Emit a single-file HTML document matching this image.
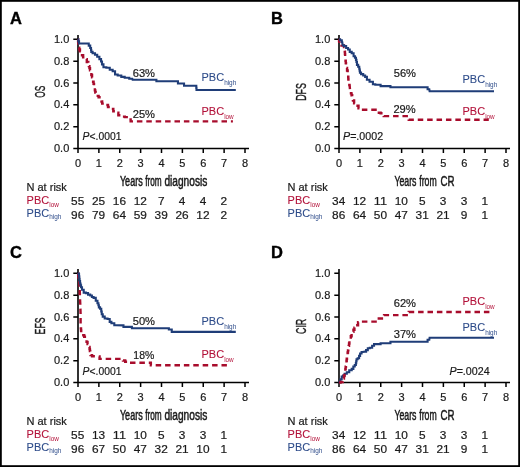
<!DOCTYPE html><html><head><meta charset="utf-8"><style>
html,body{margin:0;padding:0;background:#fff;}
svg{display:block;will-change:transform;}
text{font-family:"Liberation Sans",sans-serif;}
</style></head><body>
<svg width="520" height="467" viewBox="0 0 520 467">
<rect x="0" y="0" width="520" height="467" fill="#fff"/>
<rect x="0.9" y="0.9" width="518.2" height="465.2" fill="none" stroke="#000" stroke-width="1.8"/>

<g transform="translate(0,0)">
<text x="10.0" y="24.2" font-size="16.5" font-weight="bold" stroke="#000" stroke-width="0.35" fill="#000">A</text>
<path d="M78.0,35.1 V148.5 M78.0,148.5 H249" stroke="#000" stroke-width="1.6" fill="none"/>
<path d="M73.3,148.50 H78.0 M73.3,126.66 H78.0 M73.3,104.82 H78.0 M73.3,82.98 H78.0 M73.3,61.14 H78.0 M73.3,39.30 H78.0 M78.00,148.5 V152.9 M98.88,148.5 V152.9 M119.75,148.5 V152.9 M140.62,148.5 V152.9 M161.50,148.5 V152.9 M182.38,148.5 V152.9 M203.25,148.5 V152.9 M224.12,148.5 V152.9 M245.00,148.5 V152.9" stroke="#000" stroke-width="1.5" fill="none"/>
<text x="69.3" y="152.10" font-size="11" text-anchor="end" fill="#1a1a1a" stroke="#1a1a1a" stroke-width="0.2">0.0</text>
<text x="69.3" y="130.26" font-size="11" text-anchor="end" fill="#1a1a1a" stroke="#1a1a1a" stroke-width="0.2">0.2</text>
<text x="69.3" y="108.42" font-size="11" text-anchor="end" fill="#1a1a1a" stroke="#1a1a1a" stroke-width="0.2">0.4</text>
<text x="69.3" y="86.58" font-size="11" text-anchor="end" fill="#1a1a1a" stroke="#1a1a1a" stroke-width="0.2">0.6</text>
<text x="69.3" y="64.74" font-size="11" text-anchor="end" fill="#1a1a1a" stroke="#1a1a1a" stroke-width="0.2">0.8</text>
<text x="69.3" y="42.90" font-size="11" text-anchor="end" fill="#1a1a1a" stroke="#1a1a1a" stroke-width="0.2">1.0</text>
<text x="78.00" y="167" font-size="11" text-anchor="middle" fill="#1a1a1a" stroke="#1a1a1a" stroke-width="0.2">0</text>
<text x="98.88" y="167" font-size="11" text-anchor="middle" fill="#1a1a1a" stroke="#1a1a1a" stroke-width="0.2">1</text>
<text x="119.75" y="167" font-size="11" text-anchor="middle" fill="#1a1a1a" stroke="#1a1a1a" stroke-width="0.2">2</text>
<text x="140.62" y="167" font-size="11" text-anchor="middle" fill="#1a1a1a" stroke="#1a1a1a" stroke-width="0.2">3</text>
<text x="161.50" y="167" font-size="11" text-anchor="middle" fill="#1a1a1a" stroke="#1a1a1a" stroke-width="0.2">4</text>
<text x="182.38" y="167" font-size="11" text-anchor="middle" fill="#1a1a1a" stroke="#1a1a1a" stroke-width="0.2">5</text>
<text x="203.25" y="167" font-size="11" text-anchor="middle" fill="#1a1a1a" stroke="#1a1a1a" stroke-width="0.2">6</text>
<text x="224.12" y="167" font-size="11" text-anchor="middle" fill="#1a1a1a" stroke="#1a1a1a" stroke-width="0.2">7</text>
<text x="245.00" y="167" font-size="11" text-anchor="middle" fill="#1a1a1a" stroke="#1a1a1a" stroke-width="0.2">8</text>
<text transform="translate(45.30,91.75) rotate(-90)" x="0" y="0" font-size="14.2" stroke="#1a1a1a" stroke-width="0.4" text-anchor="middle" textLength="12.1" lengthAdjust="spacingAndGlyphs" fill="#1a1a1a">OS</text>
<text x="119.90" y="185.9" font-size="13.8" stroke="#1a1a1a" stroke-width="0.5" textLength="22.8" lengthAdjust="spacingAndGlyphs" fill="#1a1a1a">Years</text>
<text x="145.20" y="185.9" font-size="13.8" stroke="#1a1a1a" stroke-width="0.5" textLength="16.5" lengthAdjust="spacingAndGlyphs" fill="#1a1a1a">from</text>
<text x="164.40" y="185.9" font-size="13.8" stroke="#1a1a1a" stroke-width="0.5" textLength="42.9" lengthAdjust="spacingAndGlyphs" fill="#1a1a1a">diagnosis</text>
<text x="26.5" y="190.9" font-size="11" fill="#1a1a1a" stroke="#1a1a1a" stroke-width="0.2">N at risk</text>
<text x="26.6" y="203.7" font-size="11" fill="#b3123a" stroke="#b3123a" stroke-width="0.08">PBC<tspan font-size="6.4" stroke-width="0" dy="3.3">low</tspan></text>
<text x="26.6" y="216.5" font-size="11" fill="#2e4c8a" stroke="#2e4c8a" stroke-width="0.08">PBC<tspan font-size="6.4" stroke-width="0" dy="2.4">high</tspan></text>
<text x="77.70" y="204.8" font-size="11.2" text-anchor="middle" textLength="13.20" lengthAdjust="spacingAndGlyphs" fill="#1a1a1a" stroke="#1a1a1a" stroke-width="0.2">55</text>
<text x="98.58" y="204.8" font-size="11.2" text-anchor="middle" textLength="13.20" lengthAdjust="spacingAndGlyphs" fill="#1a1a1a" stroke="#1a1a1a" stroke-width="0.2">25</text>
<text x="119.45" y="204.8" font-size="11.2" text-anchor="middle" textLength="13.20" lengthAdjust="spacingAndGlyphs" fill="#1a1a1a" stroke="#1a1a1a" stroke-width="0.2">16</text>
<text x="140.32" y="204.8" font-size="11.2" text-anchor="middle" textLength="13.20" lengthAdjust="spacingAndGlyphs" fill="#1a1a1a" stroke="#1a1a1a" stroke-width="0.2">12</text>
<text x="161.20" y="204.8" font-size="11.2" text-anchor="middle" textLength="6.60" lengthAdjust="spacingAndGlyphs" fill="#1a1a1a" stroke="#1a1a1a" stroke-width="0.2">7</text>
<text x="182.07" y="204.8" font-size="11.2" text-anchor="middle" textLength="6.60" lengthAdjust="spacingAndGlyphs" fill="#1a1a1a" stroke="#1a1a1a" stroke-width="0.2">4</text>
<text x="202.95" y="204.8" font-size="11.2" text-anchor="middle" textLength="6.60" lengthAdjust="spacingAndGlyphs" fill="#1a1a1a" stroke="#1a1a1a" stroke-width="0.2">4</text>
<text x="223.82" y="204.8" font-size="11.2" text-anchor="middle" textLength="6.60" lengthAdjust="spacingAndGlyphs" fill="#1a1a1a" stroke="#1a1a1a" stroke-width="0.2">2</text>
<text x="77.70" y="218.7" font-size="11.2" text-anchor="middle" textLength="13.20" lengthAdjust="spacingAndGlyphs" fill="#1a1a1a" stroke="#1a1a1a" stroke-width="0.2">96</text>
<text x="98.58" y="218.7" font-size="11.2" text-anchor="middle" textLength="13.20" lengthAdjust="spacingAndGlyphs" fill="#1a1a1a" stroke="#1a1a1a" stroke-width="0.2">79</text>
<text x="119.45" y="218.7" font-size="11.2" text-anchor="middle" textLength="13.20" lengthAdjust="spacingAndGlyphs" fill="#1a1a1a" stroke="#1a1a1a" stroke-width="0.2">64</text>
<text x="140.32" y="218.7" font-size="11.2" text-anchor="middle" textLength="13.20" lengthAdjust="spacingAndGlyphs" fill="#1a1a1a" stroke="#1a1a1a" stroke-width="0.2">59</text>
<text x="161.20" y="218.7" font-size="11.2" text-anchor="middle" textLength="13.20" lengthAdjust="spacingAndGlyphs" fill="#1a1a1a" stroke="#1a1a1a" stroke-width="0.2">39</text>
<text x="182.07" y="218.7" font-size="11.2" text-anchor="middle" textLength="13.20" lengthAdjust="spacingAndGlyphs" fill="#1a1a1a" stroke="#1a1a1a" stroke-width="0.2">26</text>
<text x="202.95" y="218.7" font-size="11.2" text-anchor="middle" textLength="13.20" lengthAdjust="spacingAndGlyphs" fill="#1a1a1a" stroke="#1a1a1a" stroke-width="0.2">12</text>
<text x="223.82" y="218.7" font-size="11.2" text-anchor="middle" textLength="6.60" lengthAdjust="spacingAndGlyphs" fill="#1a1a1a" stroke="#1a1a1a" stroke-width="0.2">2</text>
</g>
<g transform="translate(261,0)">
<text x="10.0" y="24.2" font-size="16.5" font-weight="bold" stroke="#000" stroke-width="0.35" fill="#000">B</text>
<path d="M78.0,35.1 V148.5 M78.0,148.5 H249" stroke="#000" stroke-width="1.6" fill="none"/>
<path d="M73.3,148.50 H78.0 M73.3,126.66 H78.0 M73.3,104.82 H78.0 M73.3,82.98 H78.0 M73.3,61.14 H78.0 M73.3,39.30 H78.0 M78.00,148.5 V152.9 M98.88,148.5 V152.9 M119.75,148.5 V152.9 M140.62,148.5 V152.9 M161.50,148.5 V152.9 M182.38,148.5 V152.9 M203.25,148.5 V152.9 M224.12,148.5 V152.9 M245.00,148.5 V152.9" stroke="#000" stroke-width="1.5" fill="none"/>
<text x="69.3" y="152.10" font-size="11" text-anchor="end" fill="#1a1a1a" stroke="#1a1a1a" stroke-width="0.2">0.0</text>
<text x="69.3" y="130.26" font-size="11" text-anchor="end" fill="#1a1a1a" stroke="#1a1a1a" stroke-width="0.2">0.2</text>
<text x="69.3" y="108.42" font-size="11" text-anchor="end" fill="#1a1a1a" stroke="#1a1a1a" stroke-width="0.2">0.4</text>
<text x="69.3" y="86.58" font-size="11" text-anchor="end" fill="#1a1a1a" stroke="#1a1a1a" stroke-width="0.2">0.6</text>
<text x="69.3" y="64.74" font-size="11" text-anchor="end" fill="#1a1a1a" stroke="#1a1a1a" stroke-width="0.2">0.8</text>
<text x="69.3" y="42.90" font-size="11" text-anchor="end" fill="#1a1a1a" stroke="#1a1a1a" stroke-width="0.2">1.0</text>
<text x="78.00" y="167" font-size="11" text-anchor="middle" fill="#1a1a1a" stroke="#1a1a1a" stroke-width="0.2">0</text>
<text x="98.88" y="167" font-size="11" text-anchor="middle" fill="#1a1a1a" stroke="#1a1a1a" stroke-width="0.2">1</text>
<text x="119.75" y="167" font-size="11" text-anchor="middle" fill="#1a1a1a" stroke="#1a1a1a" stroke-width="0.2">2</text>
<text x="140.62" y="167" font-size="11" text-anchor="middle" fill="#1a1a1a" stroke="#1a1a1a" stroke-width="0.2">3</text>
<text x="161.50" y="167" font-size="11" text-anchor="middle" fill="#1a1a1a" stroke="#1a1a1a" stroke-width="0.2">4</text>
<text x="182.38" y="167" font-size="11" text-anchor="middle" fill="#1a1a1a" stroke="#1a1a1a" stroke-width="0.2">5</text>
<text x="203.25" y="167" font-size="11" text-anchor="middle" fill="#1a1a1a" stroke="#1a1a1a" stroke-width="0.2">6</text>
<text x="224.12" y="167" font-size="11" text-anchor="middle" fill="#1a1a1a" stroke="#1a1a1a" stroke-width="0.2">7</text>
<text x="245.00" y="167" font-size="11" text-anchor="middle" fill="#1a1a1a" stroke="#1a1a1a" stroke-width="0.2">8</text>
<text transform="translate(45.30,91.95) rotate(-90)" x="0" y="0" font-size="14.2" stroke="#1a1a1a" stroke-width="0.4" text-anchor="middle" textLength="17.7" lengthAdjust="spacingAndGlyphs" fill="#1a1a1a">DFS</text>
<text x="133.40" y="185.9" font-size="13.8" stroke="#1a1a1a" stroke-width="0.5" textLength="22.1" lengthAdjust="spacingAndGlyphs" fill="#1a1a1a">Years</text>
<text x="158.30" y="185.9" font-size="13.8" stroke="#1a1a1a" stroke-width="0.5" textLength="17.4" lengthAdjust="spacingAndGlyphs" fill="#1a1a1a">from</text>
<text x="179.60" y="185.9" font-size="13.8" stroke="#1a1a1a" stroke-width="0.5" textLength="14.0" lengthAdjust="spacingAndGlyphs" fill="#1a1a1a">CR</text>
<text x="26.5" y="190.9" font-size="11" fill="#1a1a1a" stroke="#1a1a1a" stroke-width="0.2">N at risk</text>
<text x="26.6" y="203.7" font-size="11" fill="#b3123a" stroke="#b3123a" stroke-width="0.08">PBC<tspan font-size="6.4" stroke-width="0" dy="3.3">low</tspan></text>
<text x="26.6" y="216.5" font-size="11" fill="#2e4c8a" stroke="#2e4c8a" stroke-width="0.08">PBC<tspan font-size="6.4" stroke-width="0" dy="2.4">high</tspan></text>
<text x="77.70" y="204.8" font-size="11.2" text-anchor="middle" textLength="13.20" lengthAdjust="spacingAndGlyphs" fill="#1a1a1a" stroke="#1a1a1a" stroke-width="0.2">34</text>
<text x="98.58" y="204.8" font-size="11.2" text-anchor="middle" textLength="13.20" lengthAdjust="spacingAndGlyphs" fill="#1a1a1a" stroke="#1a1a1a" stroke-width="0.2">12</text>
<text x="119.45" y="204.8" font-size="11.2" text-anchor="middle" textLength="13.20" lengthAdjust="spacingAndGlyphs" fill="#1a1a1a" stroke="#1a1a1a" stroke-width="0.2">11</text>
<text x="140.32" y="204.8" font-size="11.2" text-anchor="middle" textLength="13.20" lengthAdjust="spacingAndGlyphs" fill="#1a1a1a" stroke="#1a1a1a" stroke-width="0.2">10</text>
<text x="161.20" y="204.8" font-size="11.2" text-anchor="middle" textLength="6.60" lengthAdjust="spacingAndGlyphs" fill="#1a1a1a" stroke="#1a1a1a" stroke-width="0.2">5</text>
<text x="182.07" y="204.8" font-size="11.2" text-anchor="middle" textLength="6.60" lengthAdjust="spacingAndGlyphs" fill="#1a1a1a" stroke="#1a1a1a" stroke-width="0.2">3</text>
<text x="202.95" y="204.8" font-size="11.2" text-anchor="middle" textLength="6.60" lengthAdjust="spacingAndGlyphs" fill="#1a1a1a" stroke="#1a1a1a" stroke-width="0.2">3</text>
<text x="223.82" y="204.8" font-size="11.2" text-anchor="middle" textLength="6.60" lengthAdjust="spacingAndGlyphs" fill="#1a1a1a" stroke="#1a1a1a" stroke-width="0.2">1</text>
<text x="77.70" y="218.7" font-size="11.2" text-anchor="middle" textLength="13.20" lengthAdjust="spacingAndGlyphs" fill="#1a1a1a" stroke="#1a1a1a" stroke-width="0.2">86</text>
<text x="98.58" y="218.7" font-size="11.2" text-anchor="middle" textLength="13.20" lengthAdjust="spacingAndGlyphs" fill="#1a1a1a" stroke="#1a1a1a" stroke-width="0.2">64</text>
<text x="119.45" y="218.7" font-size="11.2" text-anchor="middle" textLength="13.20" lengthAdjust="spacingAndGlyphs" fill="#1a1a1a" stroke="#1a1a1a" stroke-width="0.2">50</text>
<text x="140.32" y="218.7" font-size="11.2" text-anchor="middle" textLength="13.20" lengthAdjust="spacingAndGlyphs" fill="#1a1a1a" stroke="#1a1a1a" stroke-width="0.2">47</text>
<text x="161.20" y="218.7" font-size="11.2" text-anchor="middle" textLength="13.20" lengthAdjust="spacingAndGlyphs" fill="#1a1a1a" stroke="#1a1a1a" stroke-width="0.2">31</text>
<text x="182.07" y="218.7" font-size="11.2" text-anchor="middle" textLength="13.20" lengthAdjust="spacingAndGlyphs" fill="#1a1a1a" stroke="#1a1a1a" stroke-width="0.2">21</text>
<text x="202.95" y="218.7" font-size="11.2" text-anchor="middle" textLength="6.60" lengthAdjust="spacingAndGlyphs" fill="#1a1a1a" stroke="#1a1a1a" stroke-width="0.2">9</text>
<text x="223.82" y="218.7" font-size="11.2" text-anchor="middle" textLength="6.60" lengthAdjust="spacingAndGlyphs" fill="#1a1a1a" stroke="#1a1a1a" stroke-width="0.2">1</text>
</g>
<g transform="translate(0,234)">
<text x="10.0" y="24.2" font-size="16.5" font-weight="bold" stroke="#000" stroke-width="0.35" fill="#000">C</text>
<path d="M78.0,35.1 V148.5 M78.0,148.5 H249" stroke="#000" stroke-width="1.6" fill="none"/>
<path d="M73.3,148.50 H78.0 M73.3,126.66 H78.0 M73.3,104.82 H78.0 M73.3,82.98 H78.0 M73.3,61.14 H78.0 M73.3,39.30 H78.0 M78.00,148.5 V152.9 M98.88,148.5 V152.9 M119.75,148.5 V152.9 M140.62,148.5 V152.9 M161.50,148.5 V152.9 M182.38,148.5 V152.9 M203.25,148.5 V152.9 M224.12,148.5 V152.9 M245.00,148.5 V152.9" stroke="#000" stroke-width="1.5" fill="none"/>
<text x="69.3" y="152.10" font-size="11" text-anchor="end" fill="#1a1a1a" stroke="#1a1a1a" stroke-width="0.2">0.0</text>
<text x="69.3" y="130.26" font-size="11" text-anchor="end" fill="#1a1a1a" stroke="#1a1a1a" stroke-width="0.2">0.2</text>
<text x="69.3" y="108.42" font-size="11" text-anchor="end" fill="#1a1a1a" stroke="#1a1a1a" stroke-width="0.2">0.4</text>
<text x="69.3" y="86.58" font-size="11" text-anchor="end" fill="#1a1a1a" stroke="#1a1a1a" stroke-width="0.2">0.6</text>
<text x="69.3" y="64.74" font-size="11" text-anchor="end" fill="#1a1a1a" stroke="#1a1a1a" stroke-width="0.2">0.8</text>
<text x="69.3" y="42.90" font-size="11" text-anchor="end" fill="#1a1a1a" stroke="#1a1a1a" stroke-width="0.2">1.0</text>
<text x="78.00" y="167" font-size="11" text-anchor="middle" fill="#1a1a1a" stroke="#1a1a1a" stroke-width="0.2">0</text>
<text x="98.88" y="167" font-size="11" text-anchor="middle" fill="#1a1a1a" stroke="#1a1a1a" stroke-width="0.2">1</text>
<text x="119.75" y="167" font-size="11" text-anchor="middle" fill="#1a1a1a" stroke="#1a1a1a" stroke-width="0.2">2</text>
<text x="140.62" y="167" font-size="11" text-anchor="middle" fill="#1a1a1a" stroke="#1a1a1a" stroke-width="0.2">3</text>
<text x="161.50" y="167" font-size="11" text-anchor="middle" fill="#1a1a1a" stroke="#1a1a1a" stroke-width="0.2">4</text>
<text x="182.38" y="167" font-size="11" text-anchor="middle" fill="#1a1a1a" stroke="#1a1a1a" stroke-width="0.2">5</text>
<text x="203.25" y="167" font-size="11" text-anchor="middle" fill="#1a1a1a" stroke="#1a1a1a" stroke-width="0.2">6</text>
<text x="224.12" y="167" font-size="11" text-anchor="middle" fill="#1a1a1a" stroke="#1a1a1a" stroke-width="0.2">7</text>
<text x="245.00" y="167" font-size="11" text-anchor="middle" fill="#1a1a1a" stroke="#1a1a1a" stroke-width="0.2">8</text>
<text transform="translate(45.30,91.95) rotate(-90)" x="0" y="0" font-size="14.2" stroke="#1a1a1a" stroke-width="0.4" text-anchor="middle" textLength="16.9" lengthAdjust="spacingAndGlyphs" fill="#1a1a1a">EFS</text>
<text x="119.90" y="185.9" font-size="13.8" stroke="#1a1a1a" stroke-width="0.5" textLength="22.8" lengthAdjust="spacingAndGlyphs" fill="#1a1a1a">Years</text>
<text x="145.20" y="185.9" font-size="13.8" stroke="#1a1a1a" stroke-width="0.5" textLength="16.5" lengthAdjust="spacingAndGlyphs" fill="#1a1a1a">from</text>
<text x="164.40" y="185.9" font-size="13.8" stroke="#1a1a1a" stroke-width="0.5" textLength="42.9" lengthAdjust="spacingAndGlyphs" fill="#1a1a1a">diagnosis</text>
<text x="26.5" y="190.9" font-size="11" fill="#1a1a1a" stroke="#1a1a1a" stroke-width="0.2">N at risk</text>
<text x="26.6" y="203.7" font-size="11" fill="#b3123a" stroke="#b3123a" stroke-width="0.08">PBC<tspan font-size="6.4" stroke-width="0" dy="3.3">low</tspan></text>
<text x="26.6" y="216.5" font-size="11" fill="#2e4c8a" stroke="#2e4c8a" stroke-width="0.08">PBC<tspan font-size="6.4" stroke-width="0" dy="2.4">high</tspan></text>
<text x="77.70" y="204.8" font-size="11.2" text-anchor="middle" textLength="13.20" lengthAdjust="spacingAndGlyphs" fill="#1a1a1a" stroke="#1a1a1a" stroke-width="0.2">55</text>
<text x="98.58" y="204.8" font-size="11.2" text-anchor="middle" textLength="13.20" lengthAdjust="spacingAndGlyphs" fill="#1a1a1a" stroke="#1a1a1a" stroke-width="0.2">13</text>
<text x="119.45" y="204.8" font-size="11.2" text-anchor="middle" textLength="13.20" lengthAdjust="spacingAndGlyphs" fill="#1a1a1a" stroke="#1a1a1a" stroke-width="0.2">11</text>
<text x="140.32" y="204.8" font-size="11.2" text-anchor="middle" textLength="13.20" lengthAdjust="spacingAndGlyphs" fill="#1a1a1a" stroke="#1a1a1a" stroke-width="0.2">10</text>
<text x="161.20" y="204.8" font-size="11.2" text-anchor="middle" textLength="6.60" lengthAdjust="spacingAndGlyphs" fill="#1a1a1a" stroke="#1a1a1a" stroke-width="0.2">5</text>
<text x="182.07" y="204.8" font-size="11.2" text-anchor="middle" textLength="6.60" lengthAdjust="spacingAndGlyphs" fill="#1a1a1a" stroke="#1a1a1a" stroke-width="0.2">3</text>
<text x="202.95" y="204.8" font-size="11.2" text-anchor="middle" textLength="6.60" lengthAdjust="spacingAndGlyphs" fill="#1a1a1a" stroke="#1a1a1a" stroke-width="0.2">3</text>
<text x="223.82" y="204.8" font-size="11.2" text-anchor="middle" textLength="6.60" lengthAdjust="spacingAndGlyphs" fill="#1a1a1a" stroke="#1a1a1a" stroke-width="0.2">1</text>
<text x="77.70" y="218.7" font-size="11.2" text-anchor="middle" textLength="13.20" lengthAdjust="spacingAndGlyphs" fill="#1a1a1a" stroke="#1a1a1a" stroke-width="0.2">96</text>
<text x="98.58" y="218.7" font-size="11.2" text-anchor="middle" textLength="13.20" lengthAdjust="spacingAndGlyphs" fill="#1a1a1a" stroke="#1a1a1a" stroke-width="0.2">67</text>
<text x="119.45" y="218.7" font-size="11.2" text-anchor="middle" textLength="13.20" lengthAdjust="spacingAndGlyphs" fill="#1a1a1a" stroke="#1a1a1a" stroke-width="0.2">50</text>
<text x="140.32" y="218.7" font-size="11.2" text-anchor="middle" textLength="13.20" lengthAdjust="spacingAndGlyphs" fill="#1a1a1a" stroke="#1a1a1a" stroke-width="0.2">47</text>
<text x="161.20" y="218.7" font-size="11.2" text-anchor="middle" textLength="13.20" lengthAdjust="spacingAndGlyphs" fill="#1a1a1a" stroke="#1a1a1a" stroke-width="0.2">32</text>
<text x="182.07" y="218.7" font-size="11.2" text-anchor="middle" textLength="13.20" lengthAdjust="spacingAndGlyphs" fill="#1a1a1a" stroke="#1a1a1a" stroke-width="0.2">21</text>
<text x="202.95" y="218.7" font-size="11.2" text-anchor="middle" textLength="13.20" lengthAdjust="spacingAndGlyphs" fill="#1a1a1a" stroke="#1a1a1a" stroke-width="0.2">10</text>
<text x="223.82" y="218.7" font-size="11.2" text-anchor="middle" textLength="6.60" lengthAdjust="spacingAndGlyphs" fill="#1a1a1a" stroke="#1a1a1a" stroke-width="0.2">1</text>
</g>
<g transform="translate(261,234)">
<text x="10.0" y="24.2" font-size="16.5" font-weight="bold" stroke="#000" stroke-width="0.35" fill="#000">D</text>
<path d="M78.0,35.1 V148.5 M78.0,148.5 H249" stroke="#000" stroke-width="1.6" fill="none"/>
<path d="M73.3,148.50 H78.0 M73.3,126.66 H78.0 M73.3,104.82 H78.0 M73.3,82.98 H78.0 M73.3,61.14 H78.0 M73.3,39.30 H78.0 M78.00,148.5 V152.9 M98.88,148.5 V152.9 M119.75,148.5 V152.9 M140.62,148.5 V152.9 M161.50,148.5 V152.9 M182.38,148.5 V152.9 M203.25,148.5 V152.9 M224.12,148.5 V152.9 M245.00,148.5 V152.9" stroke="#000" stroke-width="1.5" fill="none"/>
<text x="69.3" y="152.10" font-size="11" text-anchor="end" fill="#1a1a1a" stroke="#1a1a1a" stroke-width="0.2">0.0</text>
<text x="69.3" y="130.26" font-size="11" text-anchor="end" fill="#1a1a1a" stroke="#1a1a1a" stroke-width="0.2">0.2</text>
<text x="69.3" y="108.42" font-size="11" text-anchor="end" fill="#1a1a1a" stroke="#1a1a1a" stroke-width="0.2">0.4</text>
<text x="69.3" y="86.58" font-size="11" text-anchor="end" fill="#1a1a1a" stroke="#1a1a1a" stroke-width="0.2">0.6</text>
<text x="69.3" y="64.74" font-size="11" text-anchor="end" fill="#1a1a1a" stroke="#1a1a1a" stroke-width="0.2">0.8</text>
<text x="69.3" y="42.90" font-size="11" text-anchor="end" fill="#1a1a1a" stroke="#1a1a1a" stroke-width="0.2">1.0</text>
<text x="78.00" y="167" font-size="11" text-anchor="middle" fill="#1a1a1a" stroke="#1a1a1a" stroke-width="0.2">0</text>
<text x="98.88" y="167" font-size="11" text-anchor="middle" fill="#1a1a1a" stroke="#1a1a1a" stroke-width="0.2">1</text>
<text x="119.75" y="167" font-size="11" text-anchor="middle" fill="#1a1a1a" stroke="#1a1a1a" stroke-width="0.2">2</text>
<text x="140.62" y="167" font-size="11" text-anchor="middle" fill="#1a1a1a" stroke="#1a1a1a" stroke-width="0.2">3</text>
<text x="161.50" y="167" font-size="11" text-anchor="middle" fill="#1a1a1a" stroke="#1a1a1a" stroke-width="0.2">4</text>
<text x="182.38" y="167" font-size="11" text-anchor="middle" fill="#1a1a1a" stroke="#1a1a1a" stroke-width="0.2">5</text>
<text x="203.25" y="167" font-size="11" text-anchor="middle" fill="#1a1a1a" stroke="#1a1a1a" stroke-width="0.2">6</text>
<text x="224.12" y="167" font-size="11" text-anchor="middle" fill="#1a1a1a" stroke="#1a1a1a" stroke-width="0.2">7</text>
<text x="245.00" y="167" font-size="11" text-anchor="middle" fill="#1a1a1a" stroke="#1a1a1a" stroke-width="0.2">8</text>
<text transform="translate(45.10,92.40) rotate(-90)" x="0" y="0" font-size="14.2" stroke="#1a1a1a" stroke-width="0.4" text-anchor="middle" textLength="15.2" lengthAdjust="spacingAndGlyphs" fill="#1a1a1a">CIR</text>
<text x="133.40" y="185.9" font-size="13.8" stroke="#1a1a1a" stroke-width="0.5" textLength="22.1" lengthAdjust="spacingAndGlyphs" fill="#1a1a1a">Years</text>
<text x="158.30" y="185.9" font-size="13.8" stroke="#1a1a1a" stroke-width="0.5" textLength="17.4" lengthAdjust="spacingAndGlyphs" fill="#1a1a1a">from</text>
<text x="179.60" y="185.9" font-size="13.8" stroke="#1a1a1a" stroke-width="0.5" textLength="14.0" lengthAdjust="spacingAndGlyphs" fill="#1a1a1a">CR</text>
<text x="26.5" y="190.9" font-size="11" fill="#1a1a1a" stroke="#1a1a1a" stroke-width="0.2">N at risk</text>
<text x="26.6" y="203.7" font-size="11" fill="#b3123a" stroke="#b3123a" stroke-width="0.08">PBC<tspan font-size="6.4" stroke-width="0" dy="3.3">low</tspan></text>
<text x="26.6" y="216.5" font-size="11" fill="#2e4c8a" stroke="#2e4c8a" stroke-width="0.08">PBC<tspan font-size="6.4" stroke-width="0" dy="2.4">high</tspan></text>
<text x="77.70" y="204.8" font-size="11.2" text-anchor="middle" textLength="13.20" lengthAdjust="spacingAndGlyphs" fill="#1a1a1a" stroke="#1a1a1a" stroke-width="0.2">34</text>
<text x="98.58" y="204.8" font-size="11.2" text-anchor="middle" textLength="13.20" lengthAdjust="spacingAndGlyphs" fill="#1a1a1a" stroke="#1a1a1a" stroke-width="0.2">12</text>
<text x="119.45" y="204.8" font-size="11.2" text-anchor="middle" textLength="13.20" lengthAdjust="spacingAndGlyphs" fill="#1a1a1a" stroke="#1a1a1a" stroke-width="0.2">11</text>
<text x="140.32" y="204.8" font-size="11.2" text-anchor="middle" textLength="13.20" lengthAdjust="spacingAndGlyphs" fill="#1a1a1a" stroke="#1a1a1a" stroke-width="0.2">10</text>
<text x="161.20" y="204.8" font-size="11.2" text-anchor="middle" textLength="6.60" lengthAdjust="spacingAndGlyphs" fill="#1a1a1a" stroke="#1a1a1a" stroke-width="0.2">5</text>
<text x="182.07" y="204.8" font-size="11.2" text-anchor="middle" textLength="6.60" lengthAdjust="spacingAndGlyphs" fill="#1a1a1a" stroke="#1a1a1a" stroke-width="0.2">3</text>
<text x="202.95" y="204.8" font-size="11.2" text-anchor="middle" textLength="6.60" lengthAdjust="spacingAndGlyphs" fill="#1a1a1a" stroke="#1a1a1a" stroke-width="0.2">3</text>
<text x="223.82" y="204.8" font-size="11.2" text-anchor="middle" textLength="6.60" lengthAdjust="spacingAndGlyphs" fill="#1a1a1a" stroke="#1a1a1a" stroke-width="0.2">1</text>
<text x="77.70" y="218.7" font-size="11.2" text-anchor="middle" textLength="13.20" lengthAdjust="spacingAndGlyphs" fill="#1a1a1a" stroke="#1a1a1a" stroke-width="0.2">86</text>
<text x="98.58" y="218.7" font-size="11.2" text-anchor="middle" textLength="13.20" lengthAdjust="spacingAndGlyphs" fill="#1a1a1a" stroke="#1a1a1a" stroke-width="0.2">64</text>
<text x="119.45" y="218.7" font-size="11.2" text-anchor="middle" textLength="13.20" lengthAdjust="spacingAndGlyphs" fill="#1a1a1a" stroke="#1a1a1a" stroke-width="0.2">50</text>
<text x="140.32" y="218.7" font-size="11.2" text-anchor="middle" textLength="13.20" lengthAdjust="spacingAndGlyphs" fill="#1a1a1a" stroke="#1a1a1a" stroke-width="0.2">47</text>
<text x="161.20" y="218.7" font-size="11.2" text-anchor="middle" textLength="13.20" lengthAdjust="spacingAndGlyphs" fill="#1a1a1a" stroke="#1a1a1a" stroke-width="0.2">31</text>
<text x="182.07" y="218.7" font-size="11.2" text-anchor="middle" textLength="13.20" lengthAdjust="spacingAndGlyphs" fill="#1a1a1a" stroke="#1a1a1a" stroke-width="0.2">21</text>
<text x="202.95" y="218.7" font-size="11.2" text-anchor="middle" textLength="6.60" lengthAdjust="spacingAndGlyphs" fill="#1a1a1a" stroke="#1a1a1a" stroke-width="0.2">9</text>
<text x="223.82" y="218.7" font-size="11.2" text-anchor="middle" textLength="6.60" lengthAdjust="spacingAndGlyphs" fill="#1a1a1a" stroke="#1a1a1a" stroke-width="0.2">1</text>
</g>
<path d="M78.00,39.30 H78.11 V41.38 H78.34 V43.45 H78.56 V45.52 H78.79 V47.60 H78.90 H79.25 V49.50 H79.95 V51.40 H80.30 H80.87 V53.33 H82.00 V55.27 H83.13 V57.20 H83.70 H84.65 V59.10 H85.60 H86.80 V62.00 H88.00 H88.29 V64.05 H88.86 V66.10 H89.44 V68.15 H90.01 V70.20 H90.30 H90.65 V72.60 H91.35 V75.00 H92.05 V77.40 H92.40 H92.63 V79.57 H93.10 V81.73 H93.57 V83.90 H93.80 H94.01 V86.05 H94.44 V88.20 H94.86 V90.35 H95.29 V92.50 H95.50 H95.80 V94.20 H96.40 V95.90 H96.70 H98.60 V97.30 H100.50 H100.83 V99.40 H101.50 V101.50 H102.17 V103.60 H102.50 H104.15 V105.00 H105.80 H108.00 V107.00 H110.20 H110.65 V108.90 H111.10 H113.30 V111.30 H115.50 H116.20 V112.80 H116.90 H118.35 V115.20 H119.80 H121.00 V116.60 H122.20 H124.85 V117.10 H127.50 H128.25 V119.50 H129.00 H130.65 V121.40 H132.30 L232.90,121.40" fill="none" stroke="#a80c2c" stroke-width="2.4" stroke-dasharray="5.5 3.9" stroke-dashoffset="0.00" stroke-linejoin="miter"/>
<path d="M78.00,39.30 H78.35 V41.40 H79.05 V43.50 H79.40 L88.00,43.50 H88.75 V45.60 H89.50 H90.20 V48.00 H90.90 H91.03 V49.95 H91.28 V51.90 H91.40 H92.60 V53.30 H93.80 H95.00 V54.80 H96.20 H97.20 V56.70 H98.20 H99.40 V59.10 H100.60 H101.05 V61.50 H101.50 H102.00 V64.40 H102.50 H103.45 V67.30 H104.40 H106.35 V67.80 H108.30 H109.75 V69.70 H111.20 H112.65 V71.20 H114.10 H115.05 V74.50 H116.00 H117.70 V75.50 H119.40 H121.30 V76.90 H123.20 H124.70 V77.80 H126.20 H129.25 V78.80 H132.30 L132.60,79.70 L156.20,79.70 H156.40 V81.20 H156.60 L177.70,81.20 H177.95 V83.50 H178.20 L183.80,83.50 H184.05 V85.80 H184.30 L196.20,85.80 H196.30 V87.92 H196.50 V90.05 H196.60 L235.80,90.05" fill="none" stroke="#1f3d78" stroke-width="2.1" stroke-linejoin="miter"/>
<path d="M338.90,39.30 H339.05 V41.15 H339.35 V43.00 H339.50 H341.50 V45.50 H343.50 H344.00 V47.00 H344.50 H344.59 V49.30 H344.76 V51.60 H344.94 V53.90 H345.11 V56.20 H345.20 H345.31 V58.50 H345.54 V60.80 H345.76 V63.10 H345.99 V65.40 H346.10 H346.42 V67.97 H347.05 V70.53 H347.68 V73.10 H348.00 H348.06 V75.07 H348.19 V77.05 H348.31 V79.03 H348.44 V81.00 H348.50 H348.77 V83.00 H349.33 V85.00 H349.60 L350.00,89.50 H350.31 V91.42 H350.94 V93.35 H351.56 V95.28 H352.19 V97.20 H352.50 L352.90,100.50 H354.10 V103.40 H355.30 H356.05 V105.80 H356.80 H358.50 V108.20 H360.20 H361.15 V109.70 H362.10 L376.50,109.70 H377.10 V112.70 H377.70 H380.60 V113.30 H383.50 H383.75 V116.10 H384.00 L408.50,116.10 L408.70,119.80 L488.80,119.80" fill="none" stroke="#a80c2c" stroke-width="2.4" stroke-dasharray="5.5 3.9" stroke-dashoffset="1.40" stroke-linejoin="miter"/>
<path d="M338.90,39.30 H340.10 V40.30 H341.30 H341.80 V42.30 H342.30 L342.70,45.20 H343.95 V46.10 H345.20 H346.15 V48.00 H347.10 H348.05 V49.50 H349.00 H349.75 V51.90 H350.50 H351.70 V53.30 H352.90 H353.60 V56.20 H354.30 H355.00 V57.70 H355.70 H355.95 V59.85 H356.45 V62.00 H356.70 H356.95 V64.90 H357.20 H358.15 V66.80 H359.10 H359.27 V68.73 H359.60 V70.67 H359.93 V72.60 H360.10 H361.05 V74.10 H362.00 H363.20 V75.50 H364.40 H365.15 V76.90 H365.90 H366.90 V79.80 H367.90 H369.55 V81.70 H371.20 H372.90 V84.20 H374.60 H375.30 V84.70 H376.00 L380.40,84.70 H380.60 V86.10 H380.80 L390.10,86.10 H390.45 V87.20 H390.80 L427.30,87.20 H427.60 V89.30 H427.90 L429.30,89.30 L429.60,91.20 L494.00,91.20" fill="none" stroke="#1f3d78" stroke-width="2.1" stroke-linejoin="miter"/>
<path d="M78.00,273.30 H78.17 V275.38 H78.53 V277.45 H78.88 V279.53 H79.23 V281.60 H79.40 H79.44 V283.66 H79.51 V285.71 H79.58 V287.77 H79.65 V289.83 H79.72 V291.89 H79.79 V293.94 H79.86 V296.00 H79.90 L80.30,304.70 L80.60,314.60 L80.60,324.30 H80.69 V326.35 H80.86 V328.40 H81.04 V330.45 H81.21 V332.50 H81.30 H81.80 V335.30 H82.30 H84.20 V336.80 H86.10 L86.10,339.70 H86.57 V341.85 H87.53 V344.00 H88.00 H88.70 V347.00 H89.40 H89.56 V349.02 H89.89 V351.05 H90.21 V353.08 H90.54 V355.10 H90.70 H92.05 V356.20 H93.40 L98.80,356.40 H99.55 V358.90 H100.30 L122.00,358.90 H123.00 V360.50 H124.00 H125.20 V361.80 H126.40 H127.20 V362.80 H128.00 L150.50,362.80 H150.85 V365.30 H151.20 L226.90,365.30" fill="none" stroke="#a80c2c" stroke-width="2.4" stroke-dasharray="5.5 3.9" stroke-dashoffset="0.40" stroke-linejoin="miter"/>
<path d="M78.00,273.30 H78.45 V273.90 H78.90 H79.03 V276.30 H79.28 V278.70 H79.40 H79.62 V281.10 H80.08 V283.50 H80.30 H80.55 V285.40 H81.05 V287.30 H81.30 H82.00 V289.70 H82.70 H83.70 V292.60 H84.70 H85.90 V293.10 H87.10 H88.05 V294.60 H89.00 H90.20 V295.50 H91.40 H91.90 V297.00 H92.40 H93.60 V297.90 H94.80 H95.75 V300.80 H96.70 H97.45 V303.20 H98.20 H98.42 V305.30 H98.88 V307.40 H99.10 H100.05 V308.70 H101.00 H101.25 V311.45 H101.75 V314.20 H102.00 H102.75 V316.60 H103.50 H104.70 V318.50 H105.90 H107.55 V319.00 H109.20 H109.70 V321.90 H110.20 H111.40 V323.30 H112.60 H114.30 V325.20 H116.00 L123.10,325.40 H123.45 V326.90 H123.80 L131.50,326.90 H131.90 V328.20 H132.30 L168.50,328.20 H168.85 V329.50 H169.20 L171.50,329.50 H171.75 V331.90 H172.00 L235.80,331.90" fill="none" stroke="#1f3d78" stroke-width="2.1" stroke-linejoin="miter"/>
<path d="M338.90,382.60 H339.40 V381.90 H339.90 H340.50 V379.25 H341.70 V376.60 H342.30 H343.00 V375.60 H343.70 H344.65 V373.70 H345.60 H346.80 V372.30 H348.00 H349.25 V370.30 H350.50 H351.70 V368.90 H352.90 H353.35 V366.50 H353.80 H354.75 V365.00 H355.70 H355.87 V363.10 H356.20 V361.20 H356.53 V359.30 H356.70 H357.65 V358.30 H358.60 H359.10 V355.90 H360.10 V353.50 H360.60 H361.55 V352.00 H362.50 L364.90,351.60 H366.10 V350.10 H367.30 H367.80 V348.20 H368.30 H369.75 V347.70 H371.20 H372.15 V345.80 H373.10 H374.05 V344.10 H375.00 L380.40,344.10 H380.60 V343.20 H380.80 L390.10,343.20 H390.45 V341.80 H390.80 L427.30,341.80 H427.60 V339.80 H427.90 L429.30,339.80 L429.60,337.70 L494.00,337.70" fill="none" stroke="#1f3d78" stroke-width="2.1" stroke-linejoin="miter"/>
<path d="M338.90,382.60 H340.70 V382.00 H342.50 H342.80 V380.25 H343.40 V378.50 H343.70 H343.95 V376.00 H344.45 V373.50 H344.95 V371.00 H345.20 H345.35 V368.87 H345.65 V366.73 H345.95 V364.60 H346.10 H346.23 V362.68 H346.48 V360.75 H346.73 V358.82 H346.98 V356.90 H347.10 H347.28 V354.72 H347.62 V352.55 H347.98 V350.38 H348.32 V348.20 H348.50 H348.68 V345.83 H349.05 V343.47 H349.42 V341.10 H349.60 H350.00 V338.70 H350.80 V336.30 H351.60 V333.90 H352.00 H352.48 V331.80 H353.45 V329.70 H354.42 V327.60 H354.90 H355.65 V325.20 H356.40 H358.05 V322.30 H359.70 H360.35 V321.60 H361.00 L377.10,321.60 H377.60 V318.50 H378.10 L383.40,318.50 H383.62 V316.80 H384.07 V315.10 H384.30 L408.30,315.10 H408.75 V312.00 H409.20 L489.70,312.00" fill="none" stroke="#a80c2c" stroke-width="2.4" stroke-dasharray="5.5 3.9" stroke-dashoffset="0.60" stroke-linejoin="miter"/>
<text x="201.5" y="81.0" font-size="11" fill="#2e4c8a" stroke="#2e4c8a" stroke-width="0.08">PBC<tspan font-size="6.4" stroke-width="0" dy="3.8">high</tspan></text>
<text x="201.5" y="115.0" font-size="11" fill="#b3123a" stroke="#b3123a" stroke-width="0.08">PBC<tspan font-size="6.4" stroke-width="0" dy="3.9">low</tspan></text>
<text x="462.5" y="82.8" font-size="11" fill="#2e4c8a" stroke="#2e4c8a" stroke-width="0.08">PBC<tspan font-size="6.4" stroke-width="0" dy="3.8">high</tspan></text>
<text x="462.5" y="114.9" font-size="11" fill="#b3123a" stroke="#b3123a" stroke-width="0.08">PBC<tspan font-size="6.4" stroke-width="0" dy="3.9">low</tspan></text>
<text x="201.5" y="324.7" font-size="11" fill="#2e4c8a" stroke="#2e4c8a" stroke-width="0.08">PBC<tspan font-size="6.4" stroke-width="0" dy="3.8">high</tspan></text>
<text x="201.5" y="357.7" font-size="11" fill="#b3123a" stroke="#b3123a" stroke-width="0.08">PBC<tspan font-size="6.4" stroke-width="0" dy="3.9">low</tspan></text>
<text x="462.5" y="330.7" font-size="11" fill="#2e4c8a" stroke="#2e4c8a" stroke-width="0.08">PBC<tspan font-size="6.4" stroke-width="0" dy="3.8">high</tspan></text>
<text x="462.5" y="305.2" font-size="11" fill="#b3123a" stroke="#b3123a" stroke-width="0.08">PBC<tspan font-size="6.4" stroke-width="0" dy="3.9">low</tspan></text>
<text x="132.70" y="76.6" font-size="10.8" textLength="22.3" lengthAdjust="spacingAndGlyphs" fill="#1a1a1a" stroke="#1a1a1a" stroke-width="0.2">63%</text>
<text x="132.70" y="117.5" font-size="10.8" textLength="22.3" lengthAdjust="spacingAndGlyphs" fill="#1a1a1a" stroke="#1a1a1a" stroke-width="0.2">25%</text>
<text x="393.70" y="76.6" font-size="10.8" textLength="22.3" lengthAdjust="spacingAndGlyphs" fill="#1a1a1a" stroke="#1a1a1a" stroke-width="0.2">56%</text>
<text x="393.40" y="112.8" font-size="10.8" textLength="22.3" lengthAdjust="spacingAndGlyphs" fill="#1a1a1a" stroke="#1a1a1a" stroke-width="0.2">29%</text>
<text x="132.70" y="324.6" font-size="10.8" textLength="22.3" lengthAdjust="spacingAndGlyphs" fill="#1a1a1a" stroke="#1a1a1a" stroke-width="0.2">50%</text>
<text x="133.30" y="359.2" font-size="10.8" textLength="21.0" lengthAdjust="spacingAndGlyphs" fill="#1a1a1a" stroke="#1a1a1a" stroke-width="0.2">18%</text>
<text x="393.70" y="306.9" font-size="10.8" textLength="22.3" lengthAdjust="spacingAndGlyphs" fill="#1a1a1a" stroke="#1a1a1a" stroke-width="0.2">62%</text>
<text x="393.70" y="337.9" font-size="10.8" textLength="22.3" lengthAdjust="spacingAndGlyphs" fill="#1a1a1a" stroke="#1a1a1a" stroke-width="0.2">37%</text>
<text x="82.6" y="140.1" font-size="11" textLength="38.8" lengthAdjust="spacingAndGlyphs" fill="#1a1a1a" stroke="#1a1a1a" stroke-width="0.2"><tspan font-style="italic">P</tspan>&lt;.0001</text>
<text x="343.0" y="140.1" font-size="11" textLength="40.1" lengthAdjust="spacingAndGlyphs" fill="#1a1a1a" stroke="#1a1a1a" stroke-width="0.2"><tspan font-style="italic">P</tspan>=.0002</text>
<text x="82.6" y="374.6" font-size="11" textLength="38.8" lengthAdjust="spacingAndGlyphs" fill="#1a1a1a" stroke="#1a1a1a" stroke-width="0.2"><tspan font-style="italic">P</tspan>&lt;.0001</text>
<text x="449.5" y="374.6" font-size="11" textLength="40.1" lengthAdjust="spacingAndGlyphs" fill="#1a1a1a" stroke="#1a1a1a" stroke-width="0.2"><tspan font-style="italic">P</tspan>=.0024</text>
</svg></body></html>
